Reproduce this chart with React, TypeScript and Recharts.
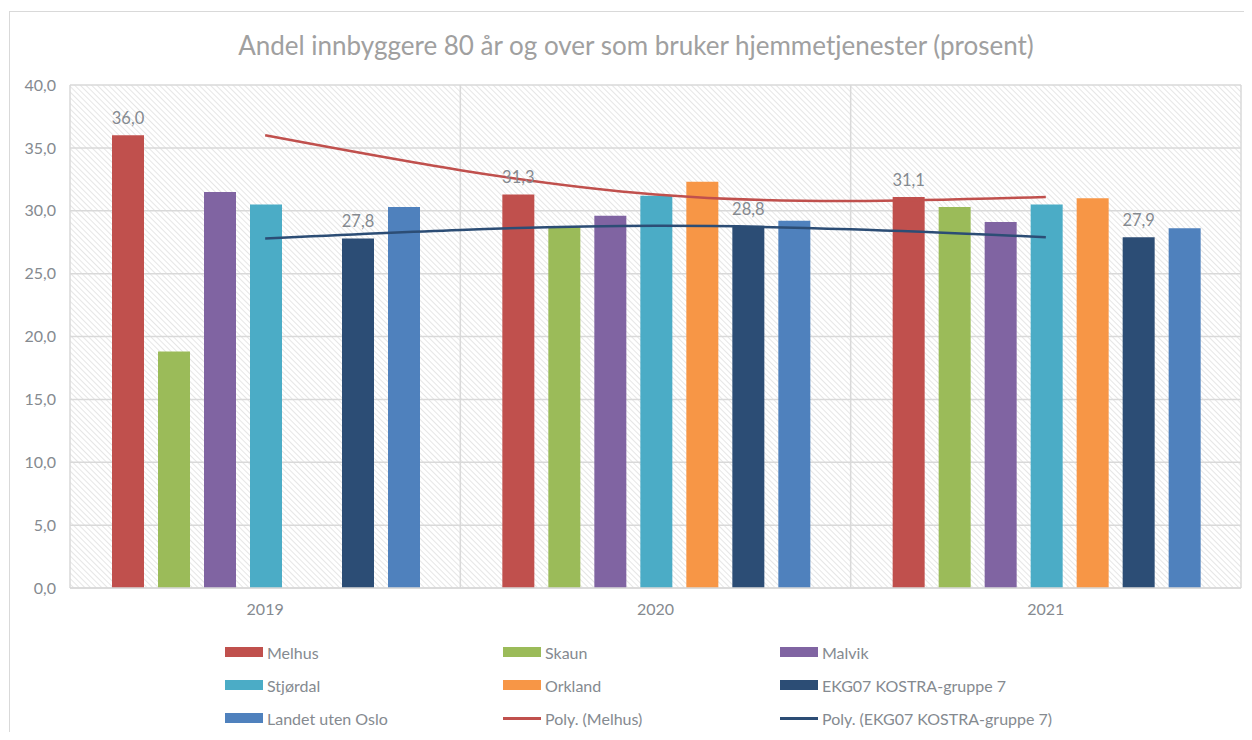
import React from "react";
import {
  ComposedChart,
  Bar,
  Line,
  XAxis,
  YAxis,
  CartesianGrid,
  LabelList,
} from "recharts";

// ================= Data =================
const years = ["2019", "2020", "2021"];
const melhus = [36.0, 31.3, 31.1];
const skaun = [18.8, 28.7, 30.3];
const malvik = [31.5, 29.6, 29.1];
const stjordal = [30.5, 31.2, 30.5];
const orkland = [null, 32.3, 31.0];
const ekg07 = [27.8, 28.8, 27.9];
const landet = [30.3, 29.2, 28.6];
const yTicks = [0, 5, 10, 15, 20, 25, 30, 35, 40];

const barSeries = [
  { key: "Melhus", values: melhus, color: "#C0504D", labels: true },
  { key: "Skaun", values: skaun, color: "#9BBB59", labels: false },
  { key: "Malvik", values: malvik, color: "#8064A2", labels: false },
  { key: "Stjørdal", values: stjordal, color: "#4BACC6", labels: false },
  { key: "Orkland", values: orkland, color: "#F79646", labels: false },
  { key: "EKG07 KOSTRA-gruppe 7", values: ekg07, color: "#2C4D75", labels: true },
  { key: "Landet uten Oslo", values: landet, color: "#4F81BD", labels: false },
];

const trendSeries = [
  { key: "Melhus", name: "Poly. (Melhus)", color: "#C0504D" },
  { key: "EKG07 KOSTRA-gruppe 7", name: "Poly. (EKG07 KOSTRA-gruppe 7)", color: "#2C4D75" },
];

const data = years.map((year, i) => {
  const row: Record<string, any> = { year };
  barSeries.forEach((s) => (row[s.key] = s.values[i]));
  return row;
});

const fmt = (v: any) => (v == null ? "" : Number(v).toFixed(1).replace(".", ","));

const FONT = "Lato, 'Open Sans', sans-serif";
const GRAY = "#858a90";

// plot area layout (page px)
const W = 1252;
const H = 740;
const PLOT_LEFT = 70;
const PLOT_RIGHT = 1241;
const PLOT_TOP = 85;
const PLOT_BOTTOM = 588;
const X_AXIS_H = 30;
const Y_AXIS_W = 60;

// category boundaries for the vertical grid
const vLines = [0, 1, 2, 3].map(
  (i) => PLOT_LEFT + (i * (PLOT_RIGHT - PLOT_LEFT)) / years.length
);

const legendItems = [
  ...barSeries.map((s) => ({ name: s.key, color: s.color, type: "bar" })),
  ...trendSeries.map((s) => ({ name: s.name, color: s.color, type: "line" })),
];
const legendCols = [225, 503, 780];
const legendRows = [652, 685, 718];

const Chart = () => (
  <ComposedChart
    width={W}
    height={H}
    data={data}
    margin={{
      top: PLOT_TOP,
      right: W - PLOT_RIGHT,
      left: PLOT_LEFT - Y_AXIS_W,
      bottom: H - PLOT_BOTTOM - X_AXIS_H,
    }}
    barCategoryGap={42}
    barGap={14}
  >
    <defs>
      <pattern
        id="hatch"
        width="4"
        height="4"
        patternUnits="userSpaceOnUse"
        patternTransform="rotate(-45)"
      >
        <rect width="4" height="4" fill="#ffffff" />
        <line x1="0" y1="0" x2="0" y2="4" stroke="#e0e0e0" strokeWidth="1.6" />
      </pattern>
    </defs>
    <CartesianGrid
      fill="url(#hatch)"
      stroke="#d9d9d9"
      strokeWidth={1.5}
      verticalPoints={vLines}
    />
    <XAxis
      dataKey="year"
      height={X_AXIS_H}
      tickLine={false}
      axisLine={{ stroke: "#d9d9d9", strokeWidth: 1.5 }}
      tickSize={0}
      tickMargin={16}
      tick={{ fill: GRAY, fontSize: 16, fontFamily: FONT }}
    />
    <YAxis
      domain={[0, 40]}
      ticks={yTicks}
      width={Y_AXIS_W}
      tickLine={false}
      axisLine={false}
      tickSize={0}
      tickMargin={14}
      tickFormatter={fmt}
      tick={{ fill: GRAY, fontSize: 16, fontFamily: FONT }}
    />
    {barSeries.map((s) => (
      <Bar key={s.key} dataKey={s.key} fill={s.color} isAnimationActive={false}>
        {s.labels ? (
          <LabelList
            dataKey={s.key}
            position="top"
            offset={11}
            formatter={fmt}
            style={{ fill: GRAY, fontSize: 16.5, fontFamily: FONT }}
          />
        ) : null}
      </Bar>
    ))}
    {trendSeries.map((s) => (
      <Line
        key={s.name}
        dataKey={s.key}
        type="natural"
        stroke={s.color}
        strokeWidth={2.5}
        dot={false}
        activeDot={false}
        isAnimationActive={false}
      />
    ))}
  </ComposedChart>
);

const App = () => {
  return (
    <div style={{ position: "relative", width: W - 16, height: H - 16, fontFamily: FONT }}>
      {/* outer frame */}
      <div
        style={{
          position: "absolute",
          left: 1,
          top: 3,
          width: 1241,
          height: H - 19,
          boxSizing: "border-box",
          border: "1px solid #d9d9d9",
          borderBottom: "none",
        }}
      />
      <div style={{ position: "absolute", left: -8, top: -8, width: W, height: H }}>
        {/* Title */}
        <div
          style={{
            position: "absolute",
            left: 0,
            width: 1272,
            top: 29,
            textAlign: "center",
            fontSize: 26,
            color: "#a0a0a0",
            lineHeight: "32px",
          }}
        >
          Andel innbyggere 80 år og over som bruker hjemmetjenester (prosent)
        </div>
        <Chart />

        {/* Legend */}
        {legendItems.map((item, i) => {
          const x = legendCols[i % 3];
          const y = legendRows[Math.floor(i / 3)];
          return (
            <div
              key={item.name}
              style={{
                position: "absolute",
                left: x,
                top: y - 11,
                height: 22,
                display: "flex",
                alignItems: "center",
                fontSize: 16,
                color: GRAY,
                whiteSpace: "nowrap",
              }}
            >
              <span
                style={{
                  display: "inline-block",
                  width: 38,
                  height: item.type === "bar" ? 10 : 3,
                  background: item.color,
                  marginRight: 4,
                }}
              />
              {item.name}
            </div>
          );
        })}
      </div>
    </div>
  );
};

export default App;
